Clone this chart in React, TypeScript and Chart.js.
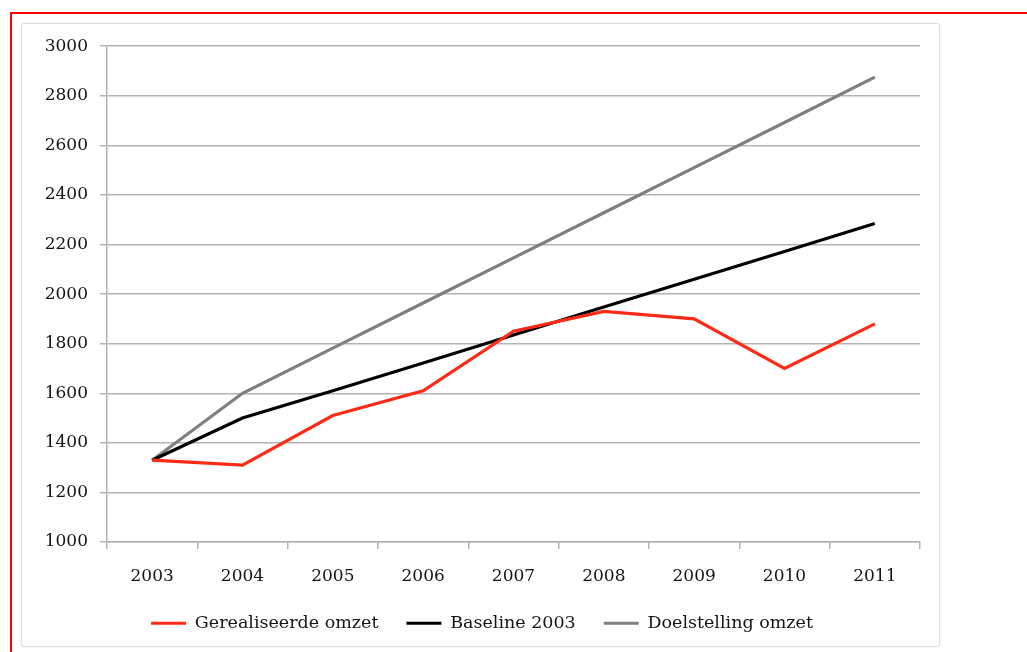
import React, { useEffect, useRef } from "react";
import { Chart, registerables } from "chart.js";

Chart.register(...registerables);

const years = ["2003", "2004", "2005", "2006", "2007", "2008", "2009", "2010", "2011"];
const gerealiseerde = [1330, 1310, 1510, 1610, 1850, 1930, 1900, 1700, 1880];
const baseline = [1330, 1500, 1610, 1722, 1835, 1948, 2060, 2172, 2285];
const doelstelling = [1330, 1600, 1782, 1964, 2146, 2328, 2510, 2692, 2875];
const seriesNames = ["Gerealiseerde omzet", "Baseline 2003", "Doelstelling omzet"];
const seriesColors = ["#ff2a17", "#000000", "#7f7f7f"];

const FONT = "'DejaVu Serif', serif";
const GRID = "#b3b3b3";
const TEXT = "#151515";

export default function App() {
  const ref = useRef<HTMLCanvasElement | null>(null);

  useEffect(() => {
    if (!ref.current) return;
    const values = [gerealiseerde, baseline, doelstelling];
    const chart = new Chart(ref.current, {
      type: "line",
      data: {
        labels: years,
        datasets: values.map((v, i) => ({
          label: seriesNames[i],
          data: v,
          borderColor: seriesColors[i],
          backgroundColor: seriesColors[i],
          borderWidth: 3.2,
          pointRadius: 0,
          tension: 0,
          fill: false,
        })),
      },
      options: {
        animation: false,
        responsive: false,
        maintainAspectRatio: false,
        layout: { padding: { left: 22, right: 19, top: 21, bottom: 4 } },
        plugins: {
          tooltip: { enabled: false },
          legend: {
            position: "bottom",
            align: "center",
            labels: {
              boxWidth: 35,
              boxHeight: 3,
              padding: 28,
              color: TEXT,
              font: { family: FONT, size: 17.5 },
              generateLabels: (c: any) => {
                const items = Chart.defaults.plugins.legend.labels.generateLabels(c);
                return items.map((it: any) => ({ ...it, lineWidth: 0, fillStyle: it.strokeStyle }));
              },
            },
          },
        },
        scales: {
          x: {
            offset: true,
            afterFit: (s: any) => {
              s.height = 44.5;
            },
            grid: {
              offset: true,
              drawOnChartArea: false,
              drawTicks: true,
              tickLength: 7,
              color: GRID,
              lineWidth: 1.5,
            },
            border: { display: true, color: GRID, width: 1.5 },
            ticks: {
              padding: 17,
              color: TEXT,
              font: { family: FONT, size: 17 },
              maxRotation: 0,
            },
          },
          y: {
            min: 1000,
            max: 3000,
            afterFit: (s: any) => {
              s.width = 63;
            },
            grid: {
              drawTicks: true,
              tickLength: 7,
              color: GRID,
              lineWidth: 1.5,
            },
            border: { display: true, color: GRID, width: 1.5 },
            ticks: {
              stepSize: 200,
              padding: 12,
              color: TEXT,
              font: { family: FONT, size: 17 },
              callback: (v: any) => String(v),
            },
          },
        },
      },
    });
    return () => chart.destroy();
  }, []);

  return (
    <div
      style={{
        position: "fixed",
        left: 0,
        top: 0,
        width: 1027,
        height: 652,
        overflow: "hidden",
        background: "#fff",
      }}
    >
      <div
        style={{
          position: "absolute",
          left: 10,
          top: 12,
          width: 1100,
          height: 700,
          border: "2px solid #ff0000",
        }}
      />
      <div
        style={{
          position: "absolute",
          left: 21,
          top: 23,
          width: 917,
          height: 622,
          border: "1px solid #dcdcdc",
          borderRadius: 3,
          boxShadow: "0 0 2px rgba(0,0,0,0.08)",
          background: "#fff",
        }}
      >
        <canvas ref={ref} width={917} height={622} style={{ display: "block", width: 917, height: 622 }} />
      </div>
    </div>
  );
}
